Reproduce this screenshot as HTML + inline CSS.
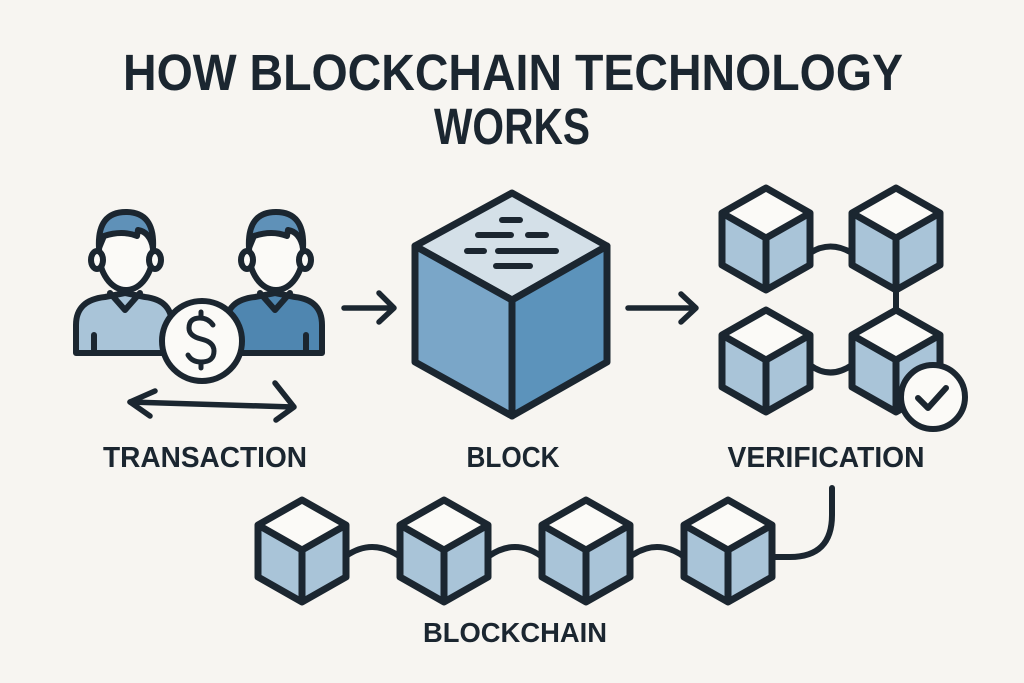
<!DOCTYPE html>
<html><head><meta charset="utf-8"><style>
html,body{margin:0;padding:0;background:#f7f5f1;}
svg{display:block;}
text{font-family:"Liberation Sans",sans-serif;font-weight:bold;fill:#1b2630;}
</style></head><body>
<svg width="1024" height="683" viewBox="0 0 1024 683" xmlns="http://www.w3.org/2000/svg">
<defs>
<g id="cube">
<polygon points="0,-51 44,-26 0,-1 -44,-26" fill="#fbfaf7"/>
<polygon points="-44,-26 0,-1 0,51 -44,26" fill="#a9c4d8"/>
<polygon points="44,-26 0,-1 0,51 44,26" fill="#a9c4d8"/>
<polygon points="0,-51 44,-26 44,26 0,51 -44,26 -44,-26" fill="none" stroke="#1b2630" stroke-width="7" stroke-linejoin="round"/>
<polyline points="-44,-26 0,-1 44,-26" fill="none" stroke="#1b2630" stroke-width="7" stroke-linejoin="round"/>
<line x1="0" y1="-1" x2="0" y2="51" stroke="#1b2630" stroke-width="7"/>
</g>
</defs>

<text x="513" y="90" font-size="51" text-anchor="middle" textLength="780" lengthAdjust="spacingAndGlyphs">HOW BLOCKCHAIN TECHNOLOGY</text>
<text x="512" y="144" font-size="51" text-anchor="middle" textLength="156" lengthAdjust="spacingAndGlyphs">WORKS</text>

<!-- persons -->
<g stroke="#1b2630" stroke-width="6" stroke-linejoin="round" stroke-linecap="round">
  <path d="M76,353 L76,325 Q76,300 105,297 L125,293 L145,297 Q172,300 172,325 L172,353 Z" fill="#a9c4d8"/>
  <path d="M110,293 L125,310 L140,293" fill="none"/>
  <line x1="94" y1="335" x2="94" y2="353"/>
  <ellipse cx="126" cy="252" rx="27" ry="38" fill="#fbfaf7"/>
  <path d="M99,248 Q97,212 126,212 Q155,212 153,248 Q150,232 138,230 L137,236 Q122,230 104,236 Z" fill="#5f91b8"/>
  <ellipse cx="97" cy="260" rx="6" ry="9" fill="#fbfaf7"/>
  <ellipse cx="155" cy="260" rx="6" ry="9" fill="#fbfaf7"/>

  <path d="M226,353 L226,325 Q226,300 255,297 L275,293 L295,297 Q322,300 322,325 L322,353 Z" fill="#4f86b0"/>
  <path d="M260,293 L275,310 L290,293" fill="none"/>
  <line x1="306" y1="335" x2="306" y2="353"/>
  <ellipse cx="276" cy="252" rx="27" ry="38" fill="#fbfaf7"/>
  <path d="M249,248 Q247,212 276,212 Q305,212 303,248 Q300,232 288,230 L287,236 Q272,230 254,236 Z" fill="#5f91b8"/>
  <ellipse cx="247" cy="260" rx="6" ry="9" fill="#fbfaf7"/>
  <ellipse cx="305" cy="260" rx="6" ry="9" fill="#fbfaf7"/>

  <circle cx="202" cy="341" r="40" fill="#fbfaf7"/>
  <path d="M213,325 Q208,318 200,318 Q189,318 189,328 Q189,336 201,339 Q214,342 214,351 Q214,362 201,362 Q192,362 188,355" fill="none" stroke-width="5"/>
  <line x1="201" y1="312" x2="201" y2="318" stroke-width="5"/>
  <line x1="201" y1="362" x2="201" y2="368" stroke-width="5"/>
</g>
<g stroke="#1b2630" stroke-width="5.5" stroke-linecap="round" stroke-linejoin="round" fill="none">
  <line x1="130" y1="402" x2="293" y2="407"/>
  <path d="M155,391 L130,402 L150,416"/>
  <path d="M275,383 L294,407 L276,420"/>
  <line x1="344" y1="308" x2="393" y2="308"/>
  <path d="M379,293 L394,308 L379,322"/>
  <line x1="628" y1="308" x2="695" y2="308"/>
  <path d="M681,294 L696,308 L681,322"/>
</g>

<!-- big block -->
<g stroke="#1b2630" stroke-width="7" stroke-linejoin="round">
  <polygon points="512,193 607,246 512,300 415,246" fill="#d4e0e8"/>
  <polygon points="415,246 512,300 512,416 415,362" fill="#7aa6c8"/>
  <polygon points="607,246 512,300 512,416 607,362" fill="#5c93bb"/>
</g>
<g stroke="#1b2630" stroke-width="6" stroke-linecap="round">
  <line x1="502" y1="220" x2="520" y2="220"/>
  <line x1="478" y1="235" x2="511" y2="235"/>
  <line x1="528" y1="235" x2="546" y2="235"/>
  <line x1="467" y1="251" x2="484" y2="251"/>
  <line x1="498" y1="251" x2="556" y2="251"/>
  <line x1="496" y1="266" x2="530" y2="266"/>
</g>

<!-- verification -->
<g stroke="#1b2630" stroke-width="6" fill="none">
  <path d="M810,253 Q830,240 852,253"/>
  <path d="M810,365 Q830,380 852,365"/>
  <line x1="896" y1="290" x2="896" y2="312"/>
</g>
<use href="#cube" x="766" y="239"/>
<use href="#cube" x="896" y="239"/>
<use href="#cube" x="766" y="361"/>
<use href="#cube" x="896" y="361"/>
<circle cx="933" cy="397" r="32" fill="#fbfaf7" stroke="#1b2630" stroke-width="6"/>
<path d="M918,398 L928,408 L946,388" fill="none" stroke="#1b2630" stroke-width="6" stroke-linecap="round" stroke-linejoin="round"/>

<text x="205" y="467" font-size="29" text-anchor="middle" textLength="204" lengthAdjust="spacingAndGlyphs">TRANSACTION</text>
<text x="513" y="467" font-size="29" text-anchor="middle" textLength="93" lengthAdjust="spacingAndGlyphs">BLOCK</text>
<text x="826" y="467" font-size="29" text-anchor="middle" textLength="197" lengthAdjust="spacingAndGlyphs">VERIFICATION</text>

<!-- chain -->
<g stroke="#1b2630" stroke-width="6" fill="none" stroke-linecap="round">
  <path d="M346,556 Q372,538 399,556"/>
  <path d="M489,556 Q515,538 541,556"/>
  <path d="M631,556 Q657,538 683,556"/>
  <path d="M773,557 L790,557 Q832,557 832,515 L832,488"/>
</g>
<use href="#cube" x="302" y="551"/>
<use href="#cube" x="444" y="551"/>
<use href="#cube" x="586" y="551"/>
<use href="#cube" x="728" y="551"/>

<text x="515" y="642" font-size="28" text-anchor="middle" textLength="184" lengthAdjust="spacingAndGlyphs">BLOCKCHAIN</text>
</svg>
</body></html>
